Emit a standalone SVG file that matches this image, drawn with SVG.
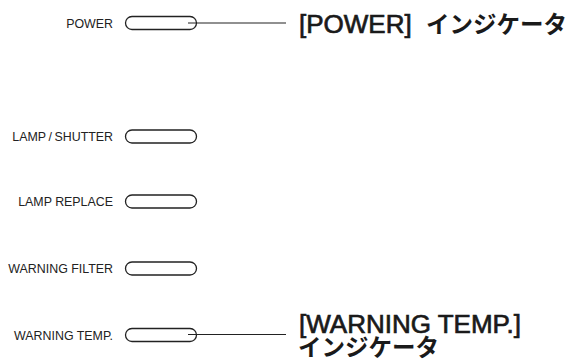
<svg xmlns="http://www.w3.org/2000/svg" width="569" height="363" viewBox="0 0 569 363">
<style>
.lbl{font-family:"Liberation Sans",Arial,sans-serif;font-size:12.4px;fill:#222;text-anchor:end}
.pill{fill:#fff;stroke:#222;stroke-width:1.3}
.big{font-family:"Liberation Sans","Noto Sans CJK JP",sans-serif;font-size:26px;fill:#1a1a1a;stroke:#1a1a1a;stroke-width:0.7}
.jp{font-family:"Noto Sans CJK JP",sans-serif;font-size:23.5px;font-weight:bold;stroke:none}
.conn{stroke:#222;stroke-width:1.2;fill:none}
</style>
<rect width="569" height="363" fill="#fff"/>
<g id="power">
<text class="lbl" x="113" y="27.5">POWER</text>
<rect class="pill" x="125.5" y="16.5" width="71" height="13" rx="6.5"/>
</g>
<g id="lamp-shutter">
<text class="lbl" x="113" y="141">LAMP<tspan dx="2.5">/</tspan><tspan dx="2.5">SHUTTER</tspan></text>
<rect class="pill" x="125.5" y="130" width="71" height="13" rx="6.5"/>
</g>
<g id="lamp-replace">
<text class="lbl" x="113" y="206">LAMP REPLACE</text>
<rect class="pill" x="125.5" y="195" width="71" height="13" rx="6.5"/>
</g>
<g id="warning-filter">
<text class="lbl" x="113" y="273">WARNING FILTER</text>
<rect class="pill" x="125.5" y="262" width="71" height="13" rx="6.5"/>
</g>
<g id="warning-temp">
<text class="lbl" x="113" y="339.5">WARNING TEMP.</text>
<rect class="pill" x="125.5" y="328.5" width="71" height="13" rx="6.5"/>
</g>
<g id="connectors">
<line class="conn" x1="188" y1="23" x2="286" y2="23"/>
<line class="conn" x1="188" y1="334.5" x2="286" y2="334.5"/>
</g>
<g id="power-label">
<text class="big" x="299" y="33">[POWER]<tspan class="jp" x="426">インジケータ</tspan></text>
</g>
<g id="warning-temp-label">
<text class="big" x="299" y="333">[WARNING TEMP.]<tspan class="jp" x="298" dy="23">インジケータ</tspan></text>
</g>
</svg>
